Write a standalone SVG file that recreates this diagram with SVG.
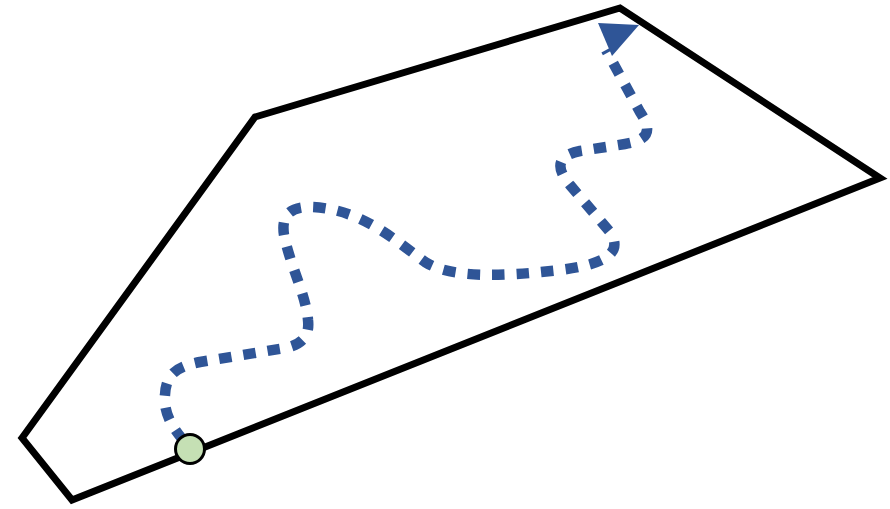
<svg xmlns="http://www.w3.org/2000/svg" width="890" height="509" viewBox="0 0 890 509">
<style>
.outline{fill:none;stroke:#000;stroke-width:7;stroke-linejoin:miter;stroke-miterlimit:4}
.route{fill:none;stroke:#2F5597;stroke-width:10.5;stroke-dasharray:12.5 12}
.head{fill:#2F5597}
.start{fill:#C5E0B4;stroke:#000;stroke-width:3}
</style>
<rect width="890" height="509" fill="#fff"/>
<g id="region">
<path class="outline" d="M22,438 L255,117 L620,8 L880,178 L72,500 Z"/>
</g>
<g id="connectors">
<path class="route" d="M183,440 C175,430 163,415 165,395 C166,375 175,367 200,362 L285,348 C300,345 310,338 308,320 C306,295 290,265 284,235 C281,215 290,207 310,207 C360,208 395,240 425,262 C450,278 500,277 560,270 C600,265 625,255 610,232 L570,185 C553,165 560,155 580,151 L625,144 C650,140 652,130 640,112 L606,50"/>
<polygon class="head" points="598,23 639,25 612,56"/>
</g>
<g id="start-node">
<circle class="start" cx="190" cy="449" r="14.5"/>
</g>
</svg>
